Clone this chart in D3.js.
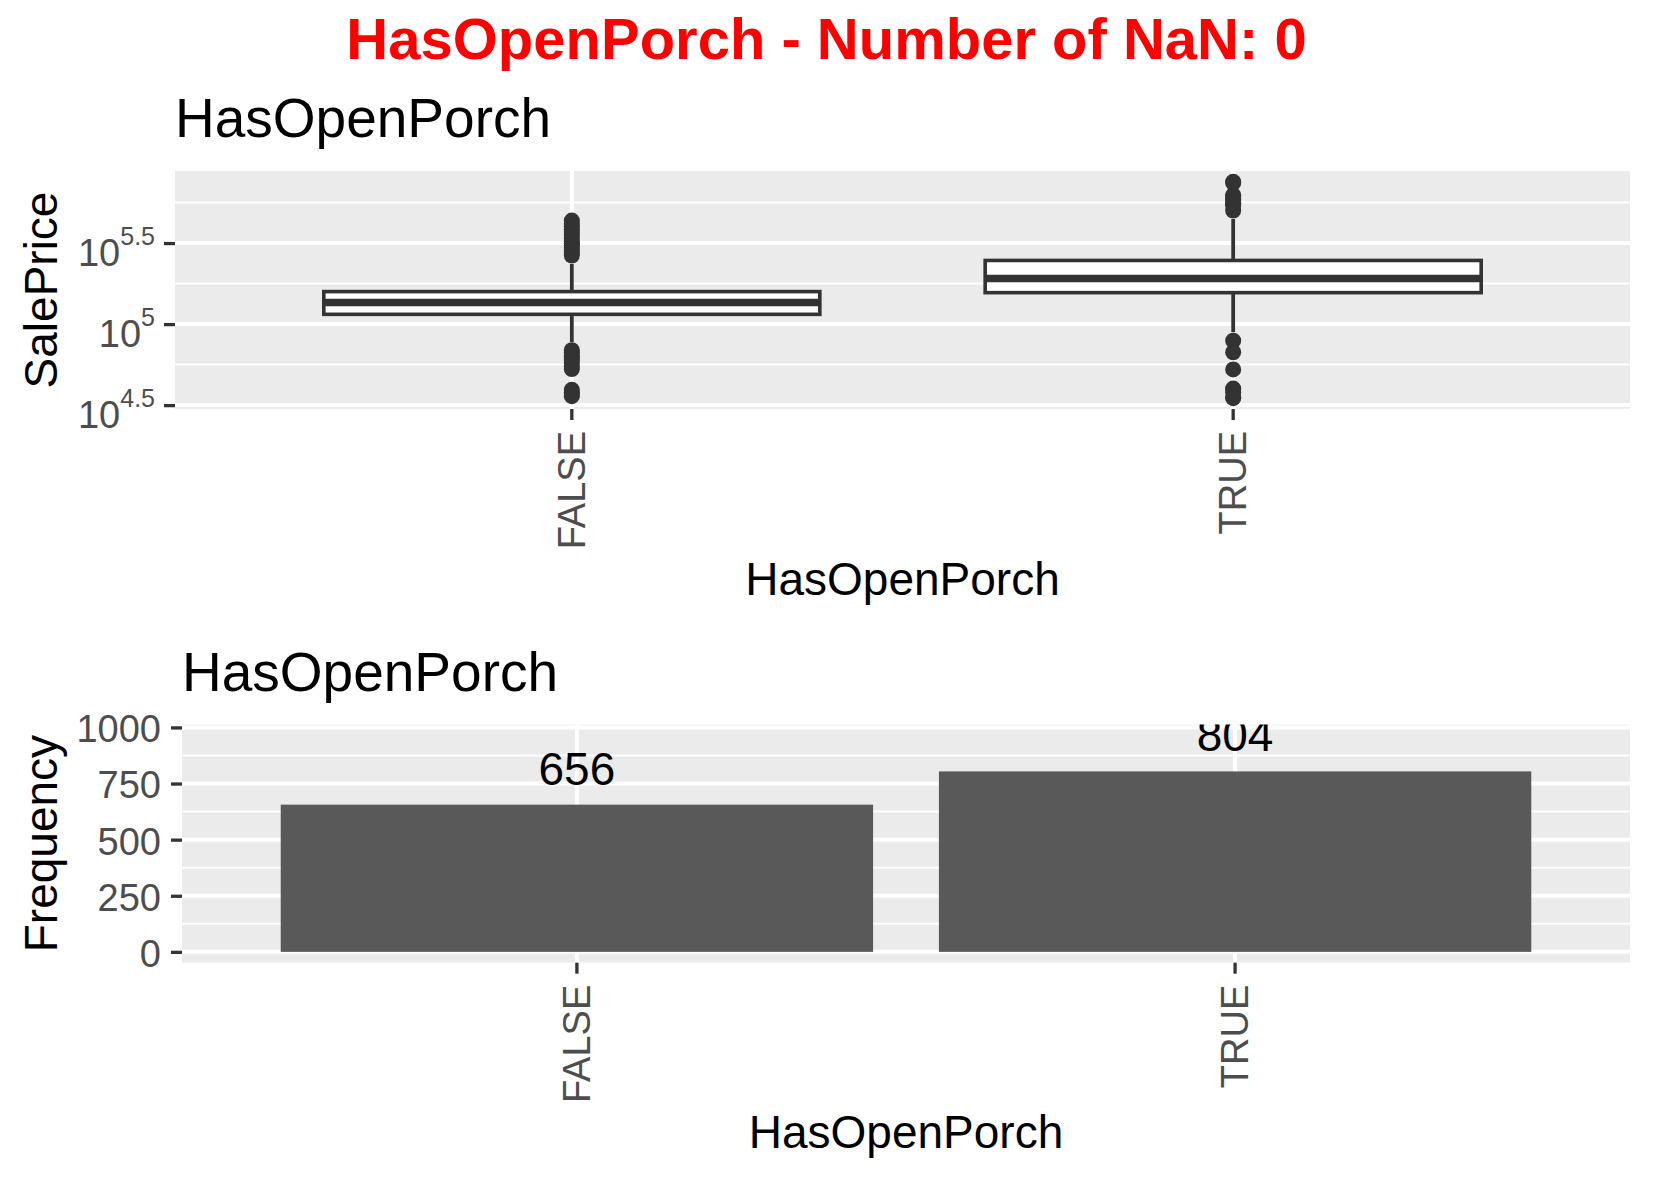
<!DOCTYPE html>
<html>
<head>
<meta charset="utf-8">
<script src="https://cdn.jsdelivr.net/npm/d3@7"></script>
<style>
  body { margin: 0; background: #fff; }
  svg text { font-family: "Liberation Sans", Arial, sans-serif; }
</style>
</head>
<body>
<svg id="chart" width="1653" height="1181"></svg>
<script>
// data
var mainTitle = "HasOpenPorch - Number of NaN: 0";
var varName = "HasOpenPorch";
var categories = ["FALSE", "TRUE"];
var counts = [656, 804];

// SalePrice boxplot stats per category
var whiskerLow = [77400, 89100];
var q1 = [114900, 156300];
var medians = [135900, 191300];
var q3 = [158700, 247000];
var whiskerHigh = [235000, 445000];
var outliersFalse = [265000, 275000, 285000, 295000, 305000, 315000, 325000, 340000, 355000,
  370000, 385000, 402000, 415000, 435000, 69000, 67000, 64000, 62000, 60000, 58000, 55000,
  52800, 39300, 37900, 37000, 35900];
var outliersTrue = [755000, 745000, 625000, 611657, 591587, 582933, 556581, 555000, 538000,
  501837, 79000, 67000, 52500, 40000, 39300, 37900, 35311, 34900];

// tick values
var logTicks = [4.5, 5, 5.5];
var logMinor = [4.75, 5.25, 5.75];
var freqTicks = [0, 250, 500, 750, 1000];
var freqMinor = [125, 375, 625, 875];

var svg = d3.select("#chart");
var gridCol = "#ffffff", panelCol = "#EBEBEB", inkCol = "#333333", tickTextCol = "#4D4D4D";
var tickFont = 38;

// main title
svg.append("text")
  .attr("x", 826.5).attr("y", 58.5)
  .attr("text-anchor", "middle")
  .attr("font-size", 58).attr("font-weight", "bold")
  .attr("fill", "#FF0000")
  .text(mainTitle);

// ---------- top panel: boxplot ----------
var p1 = {left: 175, right: 1630, top: 171, bottom: 409};

var x1 = d3.scaleBand().domain(categories)
  .range([p1.left, p1.right]).paddingInner(0).paddingOuter(0.1);

var allPrices = whiskerLow.concat(whiskerHigh, outliersFalse, outliersTrue);
var lmin = Math.log10(d3.min(allPrices)), lmax = Math.log10(d3.max(allPrices));
var pad = (lmax - lmin) * 0.05;
var y1 = d3.scaleLog()
  .domain([Math.pow(10, lmin - pad), Math.pow(10, lmax + pad)])
  .range([p1.bottom, p1.top]);

var g1 = svg.append("g");
g1.append("rect")
  .attr("x", p1.left).attr("y", p1.top)
  .attr("width", p1.right - p1.left).attr("height", p1.bottom - p1.top)
  .attr("fill", panelCol);

g1.selectAll(".minor").data(logMinor).enter().append("line")
  .attr("x1", p1.left).attr("x2", p1.right)
  .attr("y1", function(d) { return y1(Math.pow(10, d)); })
  .attr("y2", function(d) { return y1(Math.pow(10, d)); })
  .attr("stroke", gridCol).attr("stroke-width", 2);
g1.selectAll(".major").data(logTicks).enter().append("line")
  .attr("x1", p1.left).attr("x2", p1.right)
  .attr("y1", function(d) { return y1(Math.pow(10, d)); })
  .attr("y2", function(d) { return y1(Math.pow(10, d)); })
  .attr("stroke", gridCol).attr("stroke-width", 4);
g1.selectAll(".vmajor").data(categories).enter().append("line")
  .attr("x1", function(d) { return x1(d) + x1.bandwidth() / 2; })
  .attr("x2", function(d) { return x1(d) + x1.bandwidth() / 2; })
  .attr("y1", p1.top).attr("y2", p1.bottom)
  .attr("stroke", gridCol).attr("stroke-width", 4);

var boxData = categories.map(function(c, i) {
  return {
    cat: c, lo: whiskerLow[i], q1: q1[i], med: medians[i], q3: q3[i], hi: whiskerHigh[i],
    out: i === 0 ? outliersFalse : outliersTrue
  };
});
var boxW = x1.step() * 0.75;

boxData.forEach(function(b) {
  var cx = x1(b.cat) + x1.bandwidth() / 2;
  var bg = g1.append("g");
  // whiskers
  bg.append("line").attr("x1", cx).attr("x2", cx)
    .attr("y1", y1(b.q3)).attr("y2", y1(b.hi))
    .attr("stroke", inkCol).attr("stroke-width", 3.8);
  bg.append("line").attr("x1", cx).attr("x2", cx)
    .attr("y1", y1(b.q1)).attr("y2", y1(b.lo))
    .attr("stroke", inkCol).attr("stroke-width", 3.8);
  // box
  bg.append("rect")
    .attr("x", cx - boxW / 2).attr("y", y1(b.q3))
    .attr("width", boxW).attr("height", y1(b.q1) - y1(b.q3))
    .attr("fill", "#ffffff").attr("stroke", inkCol).attr("stroke-width", 3.6);
  bg.append("line")
    .attr("x1", cx - boxW / 2).attr("x2", cx + boxW / 2)
    .attr("y1", y1(b.med)).attr("y2", y1(b.med))
    .attr("stroke", inkCol).attr("stroke-width", 7.5);
  // outliers
  bg.selectAll("circle").data(b.out).enter().append("circle")
    .attr("cx", cx).attr("cy", function(d) { return y1(d); })
    .attr("r", 8).attr("fill", inkCol);
});

// y axis (log, with superscripts)
var ay1 = svg.append("g").attr("transform", "translate(" + p1.left + ",0)")
  .call(d3.axisLeft(y1)
    .tickValues(logTicks.map(function(d) { return Math.pow(10, d); }))
    .tickSize(11).tickPadding(9).tickFormat(""));
ay1.select(".domain").remove();
ay1.selectAll(".tick line").attr("stroke", inkCol).attr("stroke-width", 3.3);
ay1.selectAll(".tick text").each(function(d, i) {
  var t = d3.select(this).attr("dy", null).attr("fill", tickTextCol).attr("text-anchor", "end");
  t.append("tspan").attr("dy", 22).attr("font-size", tickFont).text("10");
  t.append("tspan").attr("dy", -21).attr("font-size", 25).text(String(logTicks[i]));
});

// x axis
var ax1 = svg.append("g").attr("transform", "translate(0," + p1.bottom + ")")
  .call(d3.axisBottom(x1).tickSize(11));
ax1.select(".domain").remove();
ax1.selectAll(".tick line").attr("stroke", inkCol).attr("stroke-width", 3.3);
ax1.selectAll(".tick text")
  .attr("transform", "rotate(-90)")
  .attr("x", -22).attr("y", 0).attr("dy", "0.35em")
  .attr("text-anchor", "end")
  .attr("font-size", tickFont).attr("fill", tickTextCol);

// titles
svg.append("text").attr("x", p1.left).attr("y", 137)
  .attr("font-size", 55).attr("fill", "#000").text(varName);
svg.append("text").attr("x", (p1.left + p1.right) / 2).attr("y", 595)
  .attr("text-anchor", "middle").attr("font-size", 46).attr("fill", "#000").text(varName);
svg.append("text")
  .attr("transform", "translate(57," + (p1.top + p1.bottom) / 2 + ") rotate(-90)")
  .attr("text-anchor", "middle").attr("font-size", 46).attr("fill", "#000").text("SalePrice");

// ---------- bottom panel: counts ----------
var p2 = {left: 182, right: 1630, top: 724.5, bottom: 962.7};

var x2 = d3.scaleBand().domain(categories)
  .range([p2.left, p2.right]).paddingInner(0).paddingOuter(0.1);
var yLim = d3.max(counts) * 1.2;
var y2 = d3.scaleLinear().domain([-0.05 * yLim, 1.05 * yLim]).range([p2.bottom, p2.top]);

svg.append("clipPath").attr("id", "clip2").append("rect")
  .attr("x", p2.left).attr("y", p2.top)
  .attr("width", p2.right - p2.left).attr("height", p2.bottom - p2.top);

var g2 = svg.append("g").attr("clip-path", "url(#clip2)");
g2.append("rect")
  .attr("x", p2.left).attr("y", p2.top)
  .attr("width", p2.right - p2.left).attr("height", p2.bottom - p2.top)
  .attr("fill", panelCol);
g2.selectAll(".minor").data(freqMinor).enter().append("line")
  .attr("x1", p2.left).attr("x2", p2.right)
  .attr("y1", function(d) { return y2(d); }).attr("y2", function(d) { return y2(d); })
  .attr("stroke", gridCol).attr("stroke-width", 2);
g2.selectAll(".major").data(freqTicks).enter().append("line")
  .attr("x1", p2.left).attr("x2", p2.right)
  .attr("y1", function(d) { return y2(d); }).attr("y2", function(d) { return y2(d); })
  .attr("stroke", gridCol).attr("stroke-width", 4);
g2.selectAll(".vmajor").data(categories).enter().append("line")
  .attr("x1", function(d) { return x2(d) + x2.bandwidth() / 2; })
  .attr("x2", function(d) { return x2(d) + x2.bandwidth() / 2; })
  .attr("y1", p2.top).attr("y2", p2.bottom)
  .attr("stroke", gridCol).attr("stroke-width", 4);

var barW = x2.step() * 0.9;
g2.selectAll(".bar").data(counts).enter().append("rect")
  .attr("x", function(d, i) { return x2(categories[i]) + x2.bandwidth() / 2 - barW / 2; })
  .attr("y", function(d) { return y2(d); })
  .attr("width", barW)
  .attr("height", function(d) { return y2(0) - y2(d); })
  .attr("fill", "#595959");
g2.selectAll(".lbl").data(counts).enter().append("text")
  .attr("x", function(d, i) { return x2(categories[i]) + x2.bandwidth() / 2; })
  .attr("y", function(d) { return y2(d) - 20; })
  .attr("text-anchor", "middle").attr("font-size", 46).attr("fill", "#000")
  .text(function(d) { return d; });

var ay2 = svg.append("g").attr("transform", "translate(" + p2.left + ",0)")
  .call(d3.axisLeft(y2).tickValues(freqTicks).tickSize(11).tickPadding(10)
    .tickFormat(d3.format("d")));
ay2.select(".domain").remove();
ay2.selectAll(".tick line").attr("stroke", inkCol).attr("stroke-width", 3.3);
ay2.selectAll(".tick text").attr("dy", "0.38em")
  .attr("font-size", tickFont).attr("fill", tickTextCol);

var ax2 = svg.append("g").attr("transform", "translate(0," + p2.bottom + ")")
  .call(d3.axisBottom(x2).tickSize(11));
ax2.select(".domain").remove();
ax2.selectAll(".tick line").attr("stroke", inkCol).attr("stroke-width", 3.3);
ax2.selectAll(".tick text")
  .attr("transform", "rotate(-90)")
  .attr("x", -22).attr("y", 0).attr("dy", "0.35em")
  .attr("text-anchor", "end")
  .attr("font-size", tickFont).attr("fill", tickTextCol);

svg.append("text").attr("x", p2.left).attr("y", 690.7)
  .attr("font-size", 55).attr("fill", "#000").text(varName);
svg.append("text").attr("x", (p2.left + p2.right) / 2).attr("y", 1148)
  .attr("text-anchor", "middle").attr("font-size", 46).attr("fill", "#000").text(varName);
svg.append("text")
  .attr("transform", "translate(57," + (p2.top + p2.bottom) / 2 + ") rotate(-90)")
  .attr("text-anchor", "middle").attr("font-size", 46).attr("fill", "#000").text("Frequency");
</script>
</body>
</html>
